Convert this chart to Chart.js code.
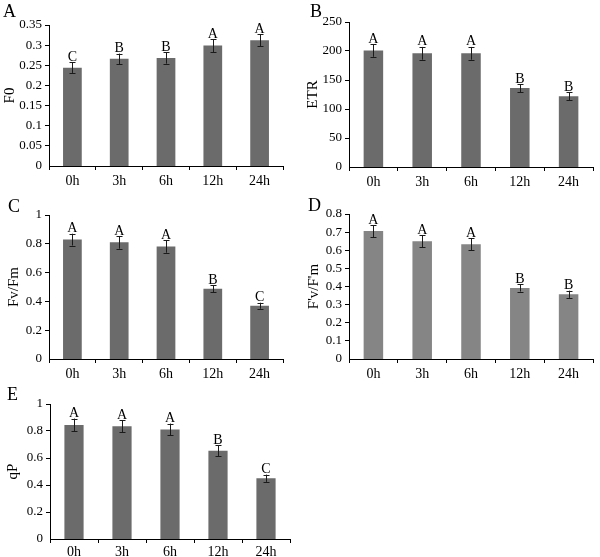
<!DOCTYPE html>
<html>
<head>
<meta charset="utf-8">
<script src="https://cdn.jsdelivr.net/npm/chart.js@4.4.1/dist/chart.umd.min.js"></script>
<style>
    body { margin: 0; background: #fff; }
    #page { position: relative; width: 600px; height: 557px; overflow: hidden; background: #fff; }
    .box { position: absolute; }
    .tag { position: absolute; font-family: "Liberation Serif", serif; font-size: 18px; line-height: 18px; color: #000; }
</style>
</head>
<body>
<div id="page">
    <div class="box" style="left:0px;top:0px;width:290px;height:190px"><canvas id="chartA" width="290" height="190"></canvas></div>
    <div class="box" style="left:300px;top:0px;width:300px;height:190px"><canvas id="chartB" width="300" height="190"></canvas></div>
    <div class="box" style="left:0px;top:190px;width:290px;height:190px"><canvas id="chartC" width="290" height="190"></canvas></div>
    <div class="box" style="left:300px;top:190px;width:300px;height:190px"><canvas id="chartD" width="300" height="190"></canvas></div>
    <div class="box" style="left:0px;top:375px;width:300px;height:182px"><canvas id="chartE" width="300" height="182"></canvas></div>
    <div class="tag" style="left:3px;top:2px">A</div>
    <div class="tag" style="left:310px;top:2px">B</div>
    <div class="tag" style="left:8px;top:197px">C</div>
    <div class="tag" style="left:308px;top:196px">D</div>
    <div class="tag" style="left:7px;top:385px">E</div>
</div>
<script>
// sampling times
var categories = ["0h", "3h", "6h", "12h", "24h"];

// A - F0
var f0Values = [0.244, 0.266, 0.268, 0.299, 0.312];
var f0Errors = [0.013, 0.013, 0.014, 0.016, 0.015];
var f0Letters = ["C", "B", "B", "A", "A"];

// B - ETR
var etrValues = [201, 196, 196, 136, 122];
var etrErrors = [11, 11, 11, 7, 7];
var etrLetters = ["A", "A", "A", "B", "B"];

// C - Fv/Fm
var fvfmValues = [0.829, 0.810, 0.782, 0.488, 0.370];
var fvfmErrors = [0.041, 0.044, 0.044, 0.024, 0.021];
var fvfmLetters = ["A", "A", "A", "B", "C"];

// D - F'v/F'm
var fvpValues = [0.706, 0.649, 0.633, 0.392, 0.357];
var fvpErrors = [0.033, 0.033, 0.033, 0.020, 0.020];
var fvpLetters = ["A", "A", "A", "B", "B"];

// E - qP
var qpValues = [0.845, 0.835, 0.811, 0.654, 0.450];
var qpErrors = [0.047, 0.045, 0.044, 0.041, 0.027];
var qpLetters = ["A", "A", "A", "B", "C"];

// y axis ranges
var yMaxList = [0.35, 250, 1, 0.8, 1];
var yStepList = [0.05, 50, 0.2, 0.1, 0.2];

var serif = "Liberation Serif";

// error bars + significance letters
var errorBarPlugin = {
    id: "errorBars",
    afterDatasetsDraw: function (chart) {
        var opts = chart.options.plugins.errorBars;
        var ctx = chart.ctx;
        var yScale = chart.scales.y;
        var meta = chart.getDatasetMeta(0);
        var values = chart.data.datasets[0].data;
        ctx.save();
        ctx.strokeStyle = "#1a1a1a";
        ctx.lineWidth = 1;
        ctx.fillStyle = "#000";
        ctx.font = "14px '" + serif + "'";
        ctx.textAlign = "center";
        ctx.textBaseline = "alphabetic";
        meta.data.forEach(function (bar, i) {
            var x = Math.round(bar.x) + 0.5;
            var top = yScale.getPixelForValue(values[i] + opts.errors[i]);
            var bot = yScale.getPixelForValue(values[i] - opts.errors[i]);
            ctx.beginPath();
            ctx.moveTo(x, top);
            ctx.lineTo(x, bot);
            ctx.moveTo(x - 3, Math.round(top) + 0.5);
            ctx.lineTo(x + 3, Math.round(top) + 0.5);
            ctx.moveTo(x - 3, Math.round(bot) + 0.5);
            ctx.lineTo(x + 3, Math.round(bot) + 0.5);
            ctx.stroke();
            ctx.fillText(opts.letters[i], bar.x, top - 1.5);
        });
        ctx.restore();
    }
};

function makePanel(id, values, errors, letters, yMax, yStep, yTitle, color, box) {
    var ctx = document.getElementById(id).getContext("2d");
    return new Chart(ctx, {
        type: "bar",
        data: {
            labels: categories,
            datasets: [{
                data: values,
                backgroundColor: color,
                borderWidth: 0,
                categoryPercentage: 1,
                barPercentage: 0.4
            }]
        },
        options: {
            responsive: false,
            animation: false,
            layout: { padding: { left: 0, top: box.top, right: box.right, bottom: 0 } },
            plugins: {
                legend: { display: false },
                tooltip: { enabled: false },
                errorBars: { errors: errors, letters: letters }
            },
            scales: {
                x: {
                    grid: { display: true, drawOnChartArea: false, drawTicks: true, tickLength: 4, color: "#000", offset: true },
                    border: { color: "#000", width: 1 },
                    ticks: { color: "#000", font: { family: serif, size: 14 }, padding: box.xPad, maxRotation: 0 },
                    afterFit: function (s) { s.height = box.xH; }
                },
                y: {
                    min: 0,
                    max: yMax,
                    grid: {
                        display: true,
                        drawOnChartArea: false,
                        drawTicks: true,
                        tickLength: 4,
                        color: "#000",
                        // no half-pixel gap between the bars and the x axis
                        lineWidth: function (c) { return c.tick && c.tick.value === 0 ? 0 : 1; }
                    },
                    border: { color: "#000", width: 1 },
                    ticks: {
                        stepSize: yStep,
                        autoSkip: false,
                        color: "#000",
                        font: { family: serif, size: 13 },
                        padding: 3,
                        callback: function (v) { return String(parseFloat(v.toFixed(2))); }
                    },
                    title: {
                        display: true,
                        text: yTitle,
                        color: "#000",
                        font: { family: serif, size: 15 },
                        padding: { top: box.titlePad, bottom: 0 }
                    },
                    afterFit: function (s) { s.width = box.yW; }
                }
            }
        },
        plugins: [errorBarPlugin]
    });
}

document.addEventListener("DOMContentLoaded", function () {
    var dark = "#6b6b6b";
    var light = "#858585";
    makePanel("chartA", f0Values, f0Errors, f0Letters, yMaxList[0], yStepList[0], "F0", dark,
        { top: 25, right: 7, xH: 24, yW: 49, xPad: 3, titlePad: 1 });
    makePanel("chartB", etrValues, etrErrors, etrLetters, yMaxList[1], yStepList[1], "ETR", dark,
        { top: 22, right: 7, xH: 23, yW: 49, xPad: 3, titlePad: 4 });
    makePanel("chartC", fvfmValues, fvfmErrors, fvfmLetters, yMaxList[2], yStepList[2], "Fv/Fm", dark,
        { top: 25, right: 7, xH: 21, yW: 49, xPad: 3, titlePad: 5 });
    makePanel("chartD", fvpValues, fvpErrors, fvpLetters, yMaxList[3], yStepList[3], "F'v/F'm", light,
        { top: 24, right: 7, xH: 21, yW: 49, xPad: 3, titlePad: 5 });
    makePanel("chartE", qpValues, qpErrors, qpLetters, yMaxList[4], yStepList[4], "qP", dark,
        { top: 29, right: 10, xH: 18, yW: 50, xPad: 1, titlePad: 4 });
});
</script>
</body>
</html>
